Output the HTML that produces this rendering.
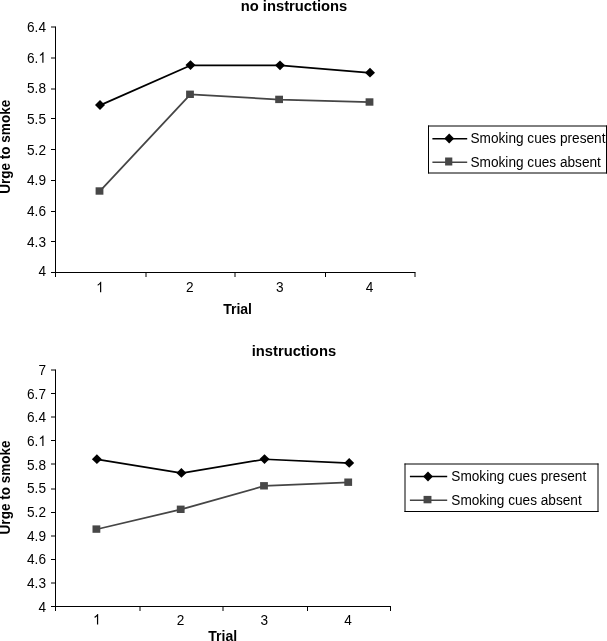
<!DOCTYPE html>
<html><head><meta charset="utf-8"><style>
html,body{margin:0;padding:0;background:#fff;}
body{width:607px;height:641px;overflow:hidden;}
svg{display:block;filter:grayscale(1);}
.t{font-family:"Liberation Sans",sans-serif;font-size:14px;fill:#000;}
.b14{font-family:"Liberation Sans",sans-serif;font-size:14px;font-weight:bold;fill:#000;}
.b15{font-family:"Liberation Sans",sans-serif;font-size:14.75px;font-weight:bold;fill:#000;}
</style></head><body>
<svg width="607" height="641" viewBox="0 0 607 641">
<rect width="607" height="641" fill="#fff"/>
<line x1="55.5" y1="26.5" x2="55.5" y2="277.0" stroke="#000" stroke-width="1"/>
<line x1="51" y1="272.5" x2="415.5" y2="272.5" stroke="#000" stroke-width="1"/>
<line x1="51" y1="27.00" x2="55.5" y2="27.00" stroke="#000" stroke-width="1"/>
<text transform="translate(46.00,32.00) scale(0.975,1.05)" text-anchor="end" class="t">6.4</text>
<line x1="51" y1="58.00" x2="55.5" y2="58.00" stroke="#000" stroke-width="1"/>
<text transform="translate(27.02,62.69) scale(0.975,1.05)" class="t">6. </text><path transform="translate(38.409,62.69) scale(0.006665,-0.007178)" d="M763 0L583 0L583 1147Q518 1085 412.5 1023Q307 961 223 930L223 1104Q374 1175 487 1276Q600 1377 647 1472L763 1472Z"/>
<line x1="51" y1="89.00" x2="55.5" y2="89.00" stroke="#000" stroke-width="1"/>
<text transform="translate(46.00,93.38) scale(0.975,1.05)" text-anchor="end" class="t">5.8</text>
<line x1="51" y1="118.50" x2="55.5" y2="118.50" stroke="#000" stroke-width="1"/>
<text transform="translate(46.00,124.06) scale(0.975,1.05)" text-anchor="end" class="t">5.5</text>
<line x1="51" y1="149.50" x2="55.5" y2="149.50" stroke="#000" stroke-width="1"/>
<text transform="translate(46.00,154.75) scale(0.975,1.05)" text-anchor="end" class="t">5.2</text>
<line x1="51" y1="180.50" x2="55.5" y2="180.50" stroke="#000" stroke-width="1"/>
<text transform="translate(46.00,185.44) scale(0.975,1.05)" text-anchor="end" class="t">4.9</text>
<line x1="51" y1="211.50" x2="55.5" y2="211.50" stroke="#000" stroke-width="1"/>
<text transform="translate(46.00,216.12) scale(0.975,1.05)" text-anchor="end" class="t">4.6</text>
<line x1="51" y1="241.50" x2="55.5" y2="241.50" stroke="#000" stroke-width="1"/>
<text transform="translate(46.00,246.81) scale(0.975,1.05)" text-anchor="end" class="t">4.3</text>
<text transform="translate(46.00,276.30) scale(0.975,1.05)" text-anchor="end" class="t">4</text>
<line x1="146.00" y1="272.5" x2="146.00" y2="277.0" stroke="#000" stroke-width="1"/>
<line x1="235.00" y1="272.5" x2="235.00" y2="277.0" stroke="#000" stroke-width="1"/>
<line x1="325.50" y1="272.5" x2="325.50" y2="277.0" stroke="#000" stroke-width="1"/>
<line x1="415.00" y1="272.5" x2="415.00" y2="277.0" stroke="#000" stroke-width="1"/>
<text transform="translate(96.14,292.30) scale(0.975,1.05)" class="t"> </text><path transform="translate(96.142,292.30) scale(0.006665,-0.007178)" d="M763 0L583 0L583 1147Q518 1085 412.5 1023Q307 961 223 930L223 1104Q374 1175 487 1276Q600 1377 647 1472L763 1472Z"/>
<text transform="translate(189.81,292.30) scale(0.975,1.05)" text-anchor="middle" class="t">2</text>
<text transform="translate(279.69,292.30) scale(0.975,1.05)" text-anchor="middle" class="t">3</text>
<text transform="translate(369.56,292.30) scale(0.975,1.05)" text-anchor="middle" class="t">4</text>
<polyline points="99.90,191.15 190.40,94.45 279.50,99.55 369.90,102.15" fill="none" stroke="#454545" stroke-width="1.75" stroke-linejoin="round"/>
<polyline points="100.40,105.15 190.90,65.25 280.40,65.45 370.40,72.85" fill="none" stroke="#000" stroke-width="1.75" stroke-linejoin="round"/>
<rect x="95.60" y="187.30" width="7.8" height="7.4" fill="#474747"/>
<rect x="186.10" y="90.60" width="7.8" height="7.4" fill="#474747"/>
<rect x="275.20" y="95.70" width="7.8" height="7.4" fill="#474747"/>
<rect x="365.60" y="98.30" width="7.8" height="7.4" fill="#474747"/>
<path d="M100.00 100.10L105.00 105.00L100.00 109.90L95.00 105.00Z" fill="#000"/>
<path d="M190.50 60.20L195.50 65.10L190.50 70.00L185.50 65.10Z" fill="#000"/>
<path d="M280.00 60.40L285.00 65.30L280.00 70.20L275.00 65.30Z" fill="#000"/>
<path d="M370.00 67.80L375.00 72.70L370.00 77.60L365.00 72.70Z" fill="#000"/>
<text x="294" y="10.6" text-anchor="middle" class="b15">no instructions</text>
<text x="237.6" y="313.6" text-anchor="middle" class="b14">Trial</text>
<text transform="translate(10,146.8) rotate(-90) scale(0.967,1)" x="0" y="0" text-anchor="middle" class="b14" transform-origin="0 0">Urge to smoke</text>
<line x1="428.5" y1="125.5" x2="428.5" y2="173.5" stroke="#000" stroke-width="1"/>
<line x1="428" y1="126" x2="607" y2="126" stroke="#000" stroke-width="1"/>
<line x1="428" y1="173" x2="607" y2="173" stroke="#000" stroke-width="1"/>
<line x1="606.5" y1="125.5" x2="606.5" y2="173.5" stroke="#000" stroke-width="1"/>
<line x1="432.4" y1="138.7" x2="467.2" y2="138.7" stroke="#000" stroke-width="1.5"/>
<path d="M449.2 133.6L454.09999999999997 138.5L449.2 143.4L444.3 138.5Z" fill="#000"/>
<line x1="432.4" y1="162.2" x2="467.2" y2="162.2" stroke="#454545" stroke-width="1.5"/>
<rect x="445.09999999999997" y="157.5" width="7.2" height="8.0" fill="#474747"/>
<text transform="translate(470.50,143.00) scale(0.975,1.05)" text-anchor="start" class="t">Smoking cues present</text>
<text transform="translate(470.50,166.80) scale(0.975,1.05)" text-anchor="start" class="t">Smoking cues absent</text>
<line x1="55.5" y1="369.5" x2="55.5" y2="611.0" stroke="#000" stroke-width="1"/>
<line x1="51" y1="606.5" x2="391.0" y2="606.5" stroke="#000" stroke-width="1"/>
<line x1="51" y1="370.00" x2="55.5" y2="370.00" stroke="#000" stroke-width="1"/>
<text transform="translate(46.00,375.00) scale(0.975,1.05)" text-anchor="end" class="t">7</text>
<line x1="51" y1="393.50" x2="55.5" y2="393.50" stroke="#000" stroke-width="1"/>
<text transform="translate(46.00,398.65) scale(0.975,1.05)" text-anchor="end" class="t">6.7</text>
<line x1="51" y1="417.00" x2="55.5" y2="417.00" stroke="#000" stroke-width="1"/>
<text transform="translate(46.00,422.30) scale(0.975,1.05)" text-anchor="end" class="t">6.4</text>
<line x1="51" y1="440.50" x2="55.5" y2="440.50" stroke="#000" stroke-width="1"/>
<text transform="translate(27.02,445.95) scale(0.975,1.05)" class="t">6. </text><path transform="translate(38.409,445.95) scale(0.006665,-0.007178)" d="M763 0L583 0L583 1147Q518 1085 412.5 1023Q307 961 223 930L223 1104Q374 1175 487 1276Q600 1377 647 1472L763 1472Z"/>
<line x1="51" y1="464.00" x2="55.5" y2="464.00" stroke="#000" stroke-width="1"/>
<text transform="translate(46.00,469.60) scale(0.975,1.05)" text-anchor="end" class="t">5.8</text>
<line x1="51" y1="489.00" x2="55.5" y2="489.00" stroke="#000" stroke-width="1"/>
<text transform="translate(46.00,493.25) scale(0.975,1.05)" text-anchor="end" class="t">5.5</text>
<line x1="51" y1="512.50" x2="55.5" y2="512.50" stroke="#000" stroke-width="1"/>
<text transform="translate(46.00,516.90) scale(0.975,1.05)" text-anchor="end" class="t">5.2</text>
<line x1="51" y1="536.00" x2="55.5" y2="536.00" stroke="#000" stroke-width="1"/>
<text transform="translate(46.00,540.55) scale(0.975,1.05)" text-anchor="end" class="t">4.9</text>
<line x1="51" y1="559.50" x2="55.5" y2="559.50" stroke="#000" stroke-width="1"/>
<text transform="translate(46.00,564.20) scale(0.975,1.05)" text-anchor="end" class="t">4.6</text>
<line x1="51" y1="583.00" x2="55.5" y2="583.00" stroke="#000" stroke-width="1"/>
<text transform="translate(46.00,587.85) scale(0.975,1.05)" text-anchor="end" class="t">4.3</text>
<text transform="translate(46.00,611.50) scale(0.975,1.05)" text-anchor="end" class="t">4</text>
<line x1="140.00" y1="606.5" x2="140.00" y2="611.0" stroke="#000" stroke-width="1"/>
<line x1="223.00" y1="606.5" x2="223.00" y2="611.0" stroke="#000" stroke-width="1"/>
<line x1="307.50" y1="606.5" x2="307.50" y2="611.0" stroke="#000" stroke-width="1"/>
<line x1="390.50" y1="606.5" x2="390.50" y2="611.0" stroke="#000" stroke-width="1"/>
<text transform="translate(93.08,624.50) scale(0.975,1.05)" class="t"> </text><path transform="translate(93.079,624.50) scale(0.006665,-0.007178)" d="M763 0L583 0L583 1147Q518 1085 412.5 1023Q307 961 223 930L223 1104Q374 1175 487 1276Q600 1377 647 1472L763 1472Z"/>
<text transform="translate(180.62,624.50) scale(0.975,1.05)" text-anchor="middle" class="t">2</text>
<text transform="translate(264.38,624.50) scale(0.975,1.05)" text-anchor="middle" class="t">3</text>
<text transform="translate(348.12,624.50) scale(0.975,1.05)" text-anchor="middle" class="t">4</text>
<polyline points="96.80,529.25 181.10,509.45 264.40,485.95 348.60,482.35" fill="none" stroke="#454545" stroke-width="1.75" stroke-linejoin="round"/>
<polyline points="97.30,459.35 181.80,473.05 264.90,459.25 349.60,463.05" fill="none" stroke="#000" stroke-width="1.75" stroke-linejoin="round"/>
<rect x="92.50" y="525.40" width="7.8" height="7.4" fill="#474747"/>
<rect x="176.80" y="505.60" width="7.8" height="7.4" fill="#474747"/>
<rect x="260.10" y="482.10" width="7.8" height="7.4" fill="#474747"/>
<rect x="344.30" y="478.50" width="7.8" height="7.4" fill="#474747"/>
<path d="M96.90 454.30L101.90 459.20L96.90 464.10L91.90 459.20Z" fill="#000"/>
<path d="M181.40 468.00L186.40 472.90L181.40 477.80L176.40 472.90Z" fill="#000"/>
<path d="M264.50 454.20L269.50 459.10L264.50 464.00L259.50 459.10Z" fill="#000"/>
<path d="M349.20 458.00L354.20 462.90L349.20 467.80L344.20 462.90Z" fill="#000"/>
<text x="293.9" y="355.6" text-anchor="middle" class="b15">instructions</text>
<text x="222.75" y="640.6" text-anchor="middle" class="b14">Trial</text>
<text transform="translate(10,487.4) rotate(-90) scale(0.967,1)" x="0" y="0" text-anchor="middle" class="b14" transform-origin="0 0">Urge to smoke</text>
<line x1="405" y1="463.5" x2="405" y2="512" stroke="#000" stroke-width="1"/>
<line x1="404.5" y1="464" x2="598.5" y2="464" stroke="#000" stroke-width="1"/>
<line x1="404.5" y1="511.5" x2="598.5" y2="511.5" stroke="#000" stroke-width="1"/>
<line x1="598" y1="463.5" x2="598" y2="512" stroke="#000" stroke-width="1"/>
<line x1="409.9" y1="476.6" x2="447.2" y2="476.6" stroke="#000" stroke-width="1.5"/>
<path d="M428.0 471.6L432.9 476.5L428.0 481.4L423.1 476.5Z" fill="#000"/>
<line x1="409.9" y1="500.2" x2="447.2" y2="500.2" stroke="#454545" stroke-width="1.5"/>
<rect x="423.55" y="495.90000000000003" width="7.9" height="7.4" fill="#474747"/>
<text transform="translate(451.30,481.00) scale(0.975,1.05)" text-anchor="start" class="t">Smoking cues present</text>
<text transform="translate(451.30,504.60) scale(0.975,1.05)" text-anchor="start" class="t">Smoking cues absent</text>
</svg>
</body></html>
